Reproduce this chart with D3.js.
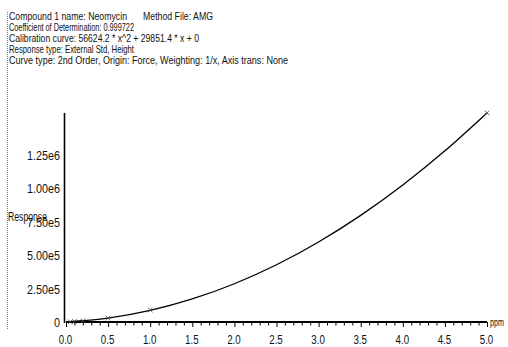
<!DOCTYPE html>
<html>
<head>
<meta charset="utf-8">
<script src="https://cdn.jsdelivr.net/npm/d3@7"></script>
<style>
  html, body { margin: 0; padding: 0; background: #fff; }
  svg { display: block; }
  text { font-family: "Liberation Sans Narrow", "Liberation Sans", Arial, sans-serif; fill: #111; }
</style>
</head>
<body>
<svg id="chart" width="508" height="347"></svg>
<script>
// header lines printed above the plot
const headerLines = [
  ['Compound 1 name: Neomycin', 'Method File: AMG'],
  ['Coefficient of Determination: 0.999722'],
  ['Calibration curve: 56624.2 * x^2 + 29851.4 * x + 0'],
  ['Response type: External Std, Height'],
  ['Curve type: 2nd Order, Origin: Force, Weighting: 1/x, Axis trans: None'],
];
const headerWidths = [118, 125, 190, 125, 279];

// calibration standards (ppm) and their responses
const conc = [0.05, 0.1, 0.2, 0.5, 1.0, 5.0];
const response = [1700, 3600, 8400, 29500, 90000, 1565000];

// fitted curve read along the x axis
const curveX = [0, 0.5, 1.0, 1.5, 2.0, 2.5, 3.0, 3.5, 4.0, 4.5, 5.0];
const curveY = [0, 29100, 86500, 172200, 286200, 428500, 599200, 798100, 1025400, 1281000, 1564900];

const xTicks = [0, 0.5, 1.0, 1.5, 2.0, 2.5, 3.0, 3.5, 4.0, 4.5, 5.0];
const yTicks = [0, 250000, 500000, 750000, 1000000, 1250000];
const yTickLabels = ['0', '2.50e5', '5.00e5', '7.50e5', '1.00e6', '1.25e6'];

const svg = d3.select('#chart');
const x = d3.scaleLinear().domain([0, 5]).range([66, 487]);
const y = d3.scaleLinear().domain([0, 1250000]).range([322, 155]);

// left dotted border
svg.append('line')
  .attr('x1', 7.5).attr('x2', 7.5).attr('y1', 12).attr('y2', 330)
  .attr('stroke', '#777').attr('stroke-dasharray', '1,1');

// header
const gHead = svg.append('g').attr('font-size', 11.5);
headerLines.forEach((parts, i) => {
  const t = gHead.append('text')
    .attr('x', 9).attr('y', 20 + i * 11.1);
  t.append('tspan')
    .attr('textLength', headerWidths[i])
    .attr('lengthAdjust', 'spacingAndGlyphs')
    .text(parts[0]);
  if (parts[1]) {
    t.append('tspan')
      .attr('x', 143)
      .attr('textLength', 70)
      .attr('lengthAdjust', 'spacingAndGlyphs')
      .text(parts[1]);
  }
});

// y axis
svg.append('line')
  .attr('x1', 64.5).attr('x2', 64.5)
  .attr('y1', y(d3.max(response))).attr('y2', y(0) + 1)
  .attr('stroke', '#000').attr('stroke-width', 1.6);

svg.append('g').attr('font-size', 13.5)
  .selectAll('text')
  .data(yTicks)
  .join('text')
  .attr('text-anchor', 'end')
  .attr('transform', d => `translate(60,${y(d) + 5}) scale(0.8,1)`)
  .text((d, i) => yTickLabels[i]);

// x axis
const xAxis = d3.axisBottom(x)
  .tickValues(d3.range(0, 50.5, 1).map(d => d / 10))
  .tickSize(3)
  .tickFormat('');
const gx = svg.append('g').attr('transform', `translate(0,${y(0)})`).call(xAxis);
gx.select('.domain').attr('stroke', '#000').attr('stroke-width', 2)
  .attr('d', `M${x(0)},0H${x(5)}`);
gx.selectAll('.tick line')
  .attr('stroke', '#000')
  .attr('y2', d => (Math.abs(d * 2 - Math.round(d * 2)) < 1e-6 ? 5 : 3.5));

svg.append('g').attr('font-size', 13.5)
  .selectAll('text')
  .data(xTicks)
  .join('text')
  .attr('text-anchor', 'middle')
  .attr('transform', d => `translate(${x(d) - 0.5},344) scale(0.72,1)`)
  .text(d => d3.format('.1f')(d));

// axis titles
svg.append('text')
  .attr('x', 8).attr('y', 221)
  .attr('font-size', 12)
  .attr('textLength', 39)
  .attr('lengthAdjust', 'spacingAndGlyphs')
  .text('Response');
svg.append('text')
  .attr('x', 490).attr('y', 326)
  .attr('font-size', 10)
  .attr('textLength', 14)
  .attr('lengthAdjust', 'spacingAndGlyphs')
  .text('ppm');

// calibration curve
const line = d3.line()
  .x((d, i) => x(curveX[i]))
  .y(d => y(d))
  .curve(d3.curveNatural);
svg.append('path')
  .datum(curveY)
  .attr('d', line)
  .attr('fill', 'none')
  .attr('stroke', '#000')
  .attr('stroke-width', 1.3);

// standard markers
const s = 2.3;
svg.append('g')
  .selectAll('path')
  .data(conc)
  .join('path')
  .attr('d', (d, i) => {
    const cx = x(d);
    const cy = y(response[i]);
    return `M${cx - s},${cy - s}L${cx + s},${cy + s}M${cx - s},${cy + s}L${cx + s},${cy - s}`;
  })
  .attr('stroke', '#444')
  .attr('stroke-width', 0.8);
</script>
</body>
</html>
